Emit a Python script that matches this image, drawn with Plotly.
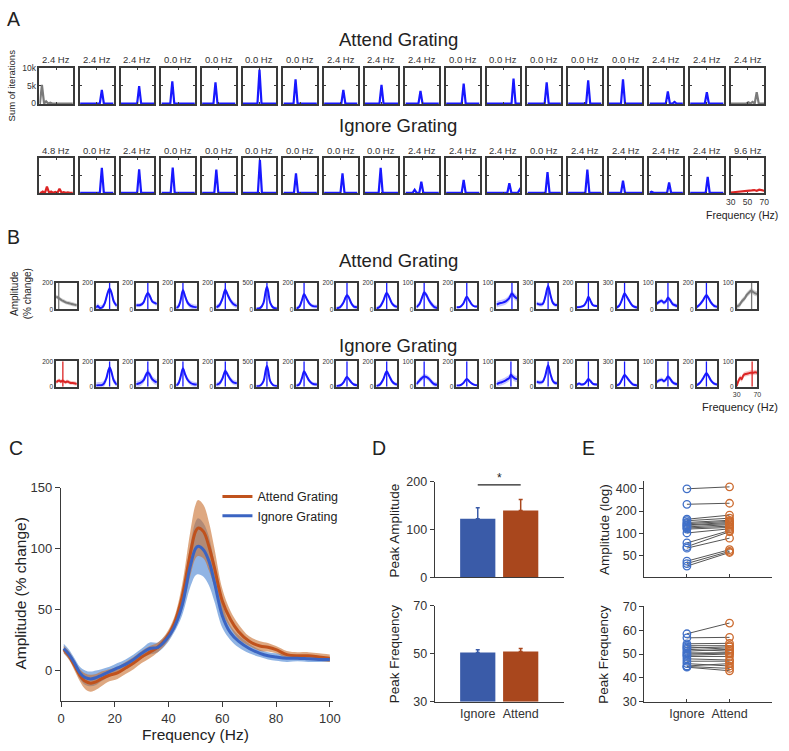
import plotly.graph_objects as go
import math

W, H = 789, 751
FONT = "Liberation Sans, Arial, Helvetica, sans-serif"
INK = "#222222"
AX = "#3a3a3a"

# ================= Panel A : histograms of peak frequency =================
A_ATT_TITLES = ["2.4 Hz", "2.4 Hz", "2.4 Hz", "0.0 Hz", "0.0 Hz", "0.0 Hz", "0.0 Hz", "2.4 Hz", "2.4 Hz",
                "2.4 Hz", "0.0 Hz", "0.0 Hz", "0.0 Hz", "0.0 Hz", "0.0 Hz", "2.4 Hz", "2.4 Hz", "2.4 Hz"]
A_IGN_TITLES = ["4.8 Hz", "0.0 Hz", "2.4 Hz", "0.0 Hz", "0.0 Hz", "0.0 Hz", "0.0 Hz", "0.0 Hz", "0.0 Hz",
                "2.4 Hz", "2.4 Hz", "2.4 Hz", "0.0 Hz", "2.4 Hz", "2.4 Hz", "2.4 Hz", "2.4 Hz", "9.6 Hz"]
A_BIN = 2.4
A_ATT_PEAK_F = [33, 56, 52, 43, 46, 50, 44.5, 53, 50, 48, 51, 62, 53, 54, 47, 52, 50, 61]
A_ATT_PEAK_N = [5200, 3800, 4900, 6200, 5900, 9500, 6800, 3800, 5200, 3500, 5600, 7000, 5900, 6500, 6800, 3400, 3200, 3200]
A_ATT_EXTRA = {0: [(38, 600), (43, 250)], 15: [(60, 450)], 17: [(51, 350), (56, 450)]}
A_IGN_PEAK_F = [39, 56, 52, 43.5, 47, 50.5, 45, 52, 49, 49, 51, 57, 54, 53, 47, 53.5, 51, 57]
A_IGN_PEAK_N = [1800, 7200, 6800, 7300, 6700, 9500, 5600, 5600, 7200, 3200, 3700, 2800, 6000, 6700, 3500, 3000, 4600, 800]
A_IGN_EXTRA = {0: [(34, 400), (44, 400), (49, 250), (54, 1200), (59, 200), (64, 150)],
               9: [(41, 900)], 11: [(69.5, 1000)], 15: [(32.5, 300)]}
A_IGN_OVERRIDE = {17: [(30, 100), (35, 200), (40, 250), (45, 300), (50, 400), (55, 700), (58, 800),
                       (61, 600), (64, 900), (67, 800), (70, 600)]}

ATT_COLORS = ["gray"] + ["blue"] * 16 + ["gray"]
IGN_COLORS = ["red"] + ["blue"] * 16 + ["red"]
LINE_C = {"blue": "#1818ff", "gray": "#7a7a7a", "red": "#dc2424"}
BAND_C = {"blue": "rgba(110,110,255,0.38)", "gray": "rgba(140,140,140,0.42)", "red": "rgba(230,110,110,0.40)"}

# ================= Panel B : amplitude spectra per subject =================
B_YMAX = [200, 200, 200, 200, 200, 500, 200, 200, 200, 100, 200, 100, 300, 200, 300, 100, 200, 100]
B_ATT_CURVES = [
    [(30, 95), (35, 85), (40, 70), (45, 60), (50, 50), (55, 45), (60, 40), (65, 35), (70, 30)],
    [(30, 10), (33, 25), (37, 10), (42, 15), (47, 50), (52, 120), (56, 155), (60, 120), (64, 60), (70, 25)],
    [(30, 30), (38, 32), (44, 50), (48, 90), (52.5, 123), (57, 95), (61, 60), (66, 48), (70, 40)],
    [(30, 10), (34, 20), (38, 60), (43, 143), (47, 100), (52, 50), (58, 25), (64, 18), (70, 15)],
    [(30, 15), (36, 30), (42, 80), (47.5, 148), (52, 110), (57, 70), (63, 40), (70, 25)],
    [(30, 10), (38, 25), (44, 120), (48, 330), (50.6, 420), (53, 340), (57, 120), (63, 30), (70, 15)],
    [(30, 5), (36, 20), (41, 70), (45, 114), (50, 80), (55, 45), (61, 25), (70, 20)],
    [(30, 5), (37, 15), (43, 45), (48, 90), (50.6, 106), (54, 90), (59, 45), (64, 20), (70, 15)],
    [(30, 5), (37, 20), (43, 60), (50, 123), (55, 90), (60, 45), (65, 25), (70, 18)],
    [(30, 8), (36, 20), (41, 45), (45, 63), (49, 55), (54, 35), (60, 18), (65, 8), (70, 5)],
    [(30, 15), (37, 18), (43, 40), (50, 94), (55, 65), (60, 35), (65, 22), (70, 20)],
    [(30, 18), (35, 22), (42, 25), (48, 30), (54, 40), (60, 59), (64, 50), (70, 40)],
    [(30, 67), (36, 55), (42, 60), (47, 140), (52.5, 264), (57, 160), (62, 70), (66, 50), (70, 48)],
    [(30, 15), (38, 18), (45, 30), (50, 65), (53, 94), (57, 65), (62, 30), (70, 25)],
    [(30, 20), (35, 40), (40, 100), (45.5, 178), (50, 140), (55, 90), (61, 40), (66, 25), (70, 20)],
    [(30, 20), (35, 28), (40, 32), (44, 25), (48, 30), (52, 43), (56, 35), (61, 20), (66, 15), (70, 12)],
    [(30, 15), (36, 35), (42, 65), (49, 106), (53, 85), (58, 50), (64, 25), (70, 18)],
    [(30, 10), (35, 15), (40, 30), (45, 40), (50, 55), (55, 65), (58, 70), (62, 65), (66, 60), (70, 58)],
]
B_ATT_ERR = [15, 20, 15, 20, 20, 30, 15, 15, 15, 10, 8, 12, 25, 10, 20, 8, 15, 10]
B_ATT_VLINE = [35, 56, 52.5, 43, 47.5, 50.6, 45, 50.6, 50, 45, 50, 60, 52.5, 53, 45.5, 52, 49, 59]
B_IGN_CURVES = [
    [(30, 35), (33, 45), (36, 50), (39, 40), (42, 48), (45, 42), (48, 35), (51, 42), (54, 38), (57, 32), (60, 30), (65, 28), (70, 22)],
    [(30, 10), (35, 12), (40, 12), (45, 25), (50, 70), (53, 120), (56, 152), (60, 110), (64, 50), (70, 15)],
    [(30, 20), (38, 30), (44, 50), (48, 85), (52.5, 114), (57, 90), (61, 60), (66, 42), (70, 35)],
    [(30, 10), (34, 25), (38, 70), (43, 144), (47, 100), (52, 55), (58, 30), (64, 20), (70, 18)],
    [(30, 15), (36, 25), (42, 65), (47.5, 124), (52, 95), (57, 60), (63, 35), (70, 28)],
    [(30, 10), (38, 25), (44, 110), (48, 310), (50.6, 405), (53, 320), (57, 110), (63, 30), (70, 15)],
    [(30, 8), (36, 20), (41, 70), (45, 119), (50, 85), (55, 48), (61, 25), (70, 18)],
    [(30, 5), (38, 12), (44, 35), (48, 65), (50.6, 76), (54, 62), (59, 35), (64, 18), (70, 12)],
    [(30, 5), (37, 18), (43, 55), (50, 119), (55, 85), (60, 45), (65, 25), (70, 18)],
    [(30, 10), (35, 22), (40, 33), (45, 40), (50, 38), (55, 30), (60, 18), (65, 10), (70, 8)],
    [(30, 10), (37, 12), (43, 28), (50, 61), (55, 42), (60, 25), (65, 15), (70, 12)],
    [(30, 10), (35, 15), (40, 18), (45, 22), (50, 28), (55, 35), (58, 47), (62, 38), (66, 32), (70, 30)],
    [(30, 60), (36, 50), (42, 60), (47, 130), (52.5, 254), (57, 150), (62, 65), (66, 45), (70, 42)],
    [(30, 15), (35, 25), (40, 18), (45, 22), (50, 45), (53, 61), (57, 45), (62, 22), (70, 18)],
    [(30, 15), (35, 30), (40, 80), (45.5, 140), (50, 110), (55, 70), (61, 30), (66, 20), (70, 15)],
    [(30, 18), (35, 25), (40, 28), (44, 22), (48, 28), (52, 40), (56, 32), (61, 18), (66, 12), (70, 10)],
    [(30, 12), (36, 30), (42, 62), (49, 106), (53, 85), (58, 48), (64, 25), (70, 18)],
    [(30, 2), (33, 20), (37, 35), (40, 30), (43, 45), (47, 50), (52, 52), (57, 55), (62, 55), (66, 57), (70, 55)],
]
B_IGN_ERR = [15, 25, 25, 20, 20, 30, 15, 12, 15, 10, 8, 12, 25, 12, 20, 8, 12, 10]
B_IGN_VLINE = [43, 56, 52.5, 43, 47.5, 50.6, 45, 50.6, 50, 45, 50, 58, 52.5, 53, 45.5, 52, 49, 60]

# ================= Panel C : grand average spectra =================
C_FREQ = [1, 3, 5, 7, 9, 11, 13, 15, 18, 21, 24, 27, 30, 33, 36, 39, 42, 45, 48, 50, 51, 53, 55, 57,
          60, 63, 66, 70, 74, 77, 80, 84, 88, 92, 96, 100]
C_ATT_MEAN = [17, 12, 4, -4, -9, -10.5, -9.5, -7, -4, -2, 2, 6, 11, 15, 19, 26, 38, 60, 95, 114, 117, 114, 102, 85,
              57, 42, 32, 24, 20, 19, 17, 13, 12, 12, 11, 10]
C_ATT_SEM = [3, 3.5, 4, 5, 6.5, 7, 6.5, 6, 5, 5, 5, 5, 5, 5, 4, 4, 5, 10, 18, 22, 23, 22, 20, 16,
             10, 7, 6, 4, 4, 3.5, 3, 3, 3, 3, 3, 3]
C_IGN_MEAN = [18, 13, 6, -2, -6, -7, -6, -4, -1, 2, 5, 9, 14, 18, 19, 25, 35, 53, 85, 100, 102, 99, 90, 73,
              45, 31, 24, 18, 14, 12, 11, 10, 10, 9.5, 9, 9]
C_IGN_SEM = [4, 4, 4, 5, 6, 6, 6, 5, 4, 4, 4, 4, 4, 5, 4, 4, 4, 8, 17, 22, 23, 22, 20, 16,
             10, 6, 5, 4, 3, 3, 3, 3, 2.5, 2.5, 2, 2]

# ================= Panel D : bar summaries =================
COND_LABELS = ["Ignore", "Attend"]
D_AMP_MEAN = [123, 140]
D_AMP_ERR = [23, 23]
D_FREQ_MEAN = [50.5, 50.9]
D_FREQ_ERR = [1.1, 1.3]
D_SIG_Y = 194

# ================= Panel E : individual subjects =================
E_AMP_IGN = [400, 247, 155, 148, 140, 135, 130, 128, 122, 118, 114, 101, 74, 66, 63, 42, 39, 36]
E_AMP_ATT = [425, 255, 176, 160, 150, 145, 140, 135, 131, 125, 120, 115, 109, 105, 86, 60, 57, 55]
E_FREQ_IGN = [58.5, 56.8, 54.3, 53.5, 53, 52.5, 52, 51.2, 50.5, 50, 49.5, 49, 48, 47, 46, 45, 44.8, 44.5]
E_FREQ_ATT = [63, 57, 54.5, 53.5, 52, 53, 51.2, 52, 50.5, 50.5, 50, 49, 47.5, 47, 45, 46, 44, 43]

C_ORANGE = "#c0521d"
C_BLUE = "#3b64c2"
BAR_BLUE = "#3a5ba8"
BAR_ORANGE = "#a9471d"
E_BLUE = "#4070c8"
E_ORANGE = "#cc6a2e"

# ---------------------------------------------------------------------------
fig = go.Figure()
layout = {}
annotations = []
counter = [0]


def xdom(l, w):
    return [l / W, (l + w) / W]


def ydom(top, bottom):
    return [1 - bottom / H, 1 - top / H]


def new_axes(xd, yd, xcfg, ycfg):
    counter[0] += 1
    n = counter[0]
    xs = "x" if n == 1 else f"x{n}"
    ys = "y" if n == 1 else f"y{n}"
    layout["xaxis" if n == 1 else f"xaxis{n}"] = dict(domain=xd, anchor=ys, showgrid=False, zeroline=False,
                                                      fixedrange=True, **xcfg)
    layout["yaxis" if n == 1 else f"yaxis{n}"] = dict(domain=yd, anchor=xs, showgrid=False, zeroline=False,
                                                      fixedrange=True, **ycfg)
    return xs, ys


def text(x, y, s, size, angle=0, xanchor="center", color=INK):
    annotations.append(dict(x=x / W, y=1 - y / H, xref="paper", yref="paper", text=s, showarrow=False,
                            font=dict(family=FONT, size=size, color=color), textangle=angle,
                            xanchor=xanchor, yanchor="middle"))


def box_axis(tickvals, rng, show, ticktext=None, size=8):
    d = dict(range=rng, showline=True, mirror="ticks", linecolor=AX, linewidth=1.5, ticks="inside",
             ticklen=2, tickwidth=1, tickcolor=AX, tickvals=tickvals, showticklabels=show,
             tickfont=dict(family=FONT, size=size, color="#333"))
    if ticktext is not None:
        d["ticktext"] = ticktext
    return d


def a_knots(f, n, extra):
    pk = sorted([(f, n)] + list(extra))
    xs, ys = [30], [0]
    for pf, pn in pk:
        xs += [pf - A_BIN, pf, pf + A_BIN]
        ys += [0, pn, 0]
    xs.append(70)
    ys.append(0)
    return xs, ys


# ---------------- Panel A ----------------
A_X0, A_STEP, A_W = 35, 41.35, 34
A_ROWS = [(62, 99, A_ATT_TITLES, A_ATT_PEAK_F, A_ATT_PEAK_N, A_ATT_EXTRA, {}, ATT_COLORS, 54),
          (154, 190, A_IGN_TITLES, A_IGN_PEAK_F, A_IGN_PEAK_N, A_IGN_EXTRA, A_IGN_OVERRIDE, IGN_COLORS, 146)]
for r, (top, bot, titles, pf, pn, extra, override, colors, ty) in enumerate(A_ROWS):
    for i in range(18):
        left = A_X0 + i * A_STEP
        first = (r == 0 and i == 0)
        last = (r == 1 and i == 17)
        xa = box_axis([30, 50, 70], [30, 70], last, ["30", "50", "70"], 8.5)
        ya = box_axis([0, 5000, 10000], [-180, 10000], first, ["0", "5k", "10k"], 8.5)
        xs, ys = new_axes(xdom(left, A_W), ydom(top, bot), xa, ya)
        if i in override:
            kx = [p[0] for p in override[i]]
            ky = [p[1] for p in override[i]]
        else:
            kx, ky = a_knots(pf[i], pn[i], extra.get(i, []))
        fig.add_trace(go.Scatter(x=kx, y=ky, mode="lines", xaxis=xs, yaxis=ys, showlegend=False,
                                 line=dict(color=LINE_C[colors[i]], width=2.2)))
        text(left + A_W / 2, ty, titles[i], 9.5, color="#333")

text(400, 33, "Attend Grating", 18.5)
text(400, 121, "Ignore Grating", 18.5)
text(7, 80, "Sum of iterations", 9.5, angle=-90)
text(788, 212, "Frequency (Hz)", 10.5, xanchor="right")

# ---------------- Panel B ----------------
B_X0, B_STEP, B_W = 52, 40.7, 21
B_ROWS = [(281, 308, B_ATT_CURVES, B_ATT_ERR, B_ATT_VLINE, ATT_COLORS),
          (361, 387, B_IGN_CURVES, B_IGN_ERR, B_IGN_VLINE, IGN_COLORS)]
for r, (top, bot, curves, errs, vls, colors) in enumerate(B_ROWS):
    for i in range(18):
        left = B_X0 + i * B_STEP
        last = (r == 1 and i == 17)
        ym = B_YMAX[i]
        xa = box_axis([30, 70], [30, 70], last, ["30", "70"], 7)
        ya = box_axis([0, ym], [0, ym], True, ["0", str(ym)], 6.5)
        xs, ys = new_axes(xdom(left, B_W), ydom(top, bot), xa, ya)
        c = colors[i]
        kx = [p[0] for p in curves[i]]
        ky = [p[1] for p in curves[i]]
        up = [v + errs[i] for v in ky]
        lo = [max(v - errs[i], 0) for v in ky]
        fig.add_trace(go.Scatter(x=kx, y=up, mode="lines", xaxis=xs, yaxis=ys, showlegend=False,
                                 line=dict(width=0, shape="spline", color=BAND_C[c])))
        fig.add_trace(go.Scatter(x=kx, y=lo, mode="lines", xaxis=xs, yaxis=ys, showlegend=False,
                                 fill="tonexty", fillcolor=BAND_C[c],
                                 line=dict(width=0, shape="spline", color=BAND_C[c])))
        fig.add_trace(go.Scatter(x=[vls[i], vls[i]], y=[0, ym], mode="lines", xaxis=xs, yaxis=ys,
                                 showlegend=False, line=dict(color=LINE_C[c], width=1.3)))
        fig.add_trace(go.Scatter(x=kx, y=ky, mode="lines", xaxis=xs, yaxis=ys, showlegend=False,
                                 line=dict(color=LINE_C[c], width=2, shape="spline")))

text(400, 258, "Attend Grating", 18.5)
text(400, 345, "Ignore Grating", 18.5)
text(16, 292, "Amplitude<br>(% change)", 10, angle=-90)
text(788, 408, "Frequency (Hz)", 11, xanchor="right")

# ---------------- Panel C ----------------
c_ax = dict(showline=True, linecolor=AX, linewidth=1.3, ticks="outside", ticklen=5, tickwidth=1.2,
            tickcolor=AX, tickfont=dict(family=FONT, size=13, color="#333"))
xs, ys = new_axes(xdom(57, 276), ydom(490, 707),
                  dict(range=[0, 101], tickvals=[0, 20, 40, 60, 80, 100], **c_ax),
                  dict(range=[-25, 150], tickvals=[0, 50, 100, 150], **c_ax))
for mean, sem, fillc in [(C_IGN_MEAN, C_IGN_SEM, "rgba(70,130,210,0.6)"),
                         (C_ATT_MEAN, C_ATT_SEM, "rgba(200,110,45,0.6)")]:
    fig.add_trace(go.Scatter(x=C_FREQ, y=[m + s for m, s in zip(mean, sem)], mode="lines", xaxis=xs, yaxis=ys,
                             showlegend=False, line=dict(width=0, shape="spline", color=fillc)))
    fig.add_trace(go.Scatter(x=C_FREQ, y=[m - s for m, s in zip(mean, sem)], mode="lines", xaxis=xs, yaxis=ys,
                             showlegend=False, fill="tonexty", fillcolor=fillc,
                             line=dict(width=0, shape="spline", color=fillc)))
fig.add_trace(go.Scatter(x=C_FREQ, y=C_ATT_MEAN, mode="lines", xaxis=xs, yaxis=ys, name="Attend Grating",
                         line=dict(color=C_ORANGE, width=3, shape="spline")))
fig.add_trace(go.Scatter(x=C_FREQ, y=C_IGN_MEAN, mode="lines", xaxis=xs, yaxis=ys, name="Ignore Grating",
                         line=dict(color=C_BLUE, width=3, shape="spline")))
text(16, 597, "Amplitude (% change)", 15.5, angle=-90)
text(194, 741, "Frequency (Hz)", 15.5)

# ---------------- Panel D ----------------
d_ax = dict(showline=True, linecolor=AX, linewidth=1.3, tickcolor=AX, tickwidth=1.2,
            tickfont=dict(family=FONT, size=12.5, color="#333"))
cond_x = [1, 2]
bar_cols = [BAR_BLUE, BAR_ORANGE]
for top, bot, rng, tv, means, errs, lab in [
        (484, 581, [0, 200], [0, 100, 200], D_AMP_MEAN, D_AMP_ERR, False),
        (610, 708, [30, 70], [30, 50, 70], D_FREQ_MEAN, D_FREQ_ERR, True)]:
    xs, ys = new_axes(xdom(437, 131), ydom(top, bot),
                      dict(range=[0, 3], tickvals=cond_x, ticktext=COND_LABELS, showticklabels=lab,
                           ticks="", **d_ax),
                      dict(range=rng, tickvals=tv, ticks="outside", ticklen=4, **d_ax))
    for k in range(2):
        fig.add_trace(go.Bar(x=[cond_x[k]], y=[means[k] - rng[0]], base=rng[0], xaxis=xs, yaxis=ys,
                             width=0.82, marker=dict(color=bar_cols[k], line=dict(width=0)),
                             showlegend=False,
                             error_y=dict(type="data", symmetric=False, array=[errs[k]], arrayminus=[0],
                                          color=bar_cols[k], thickness=1.5, width=2)))
    if not lab:
        fig.add_trace(go.Scatter(x=cond_x, y=[D_SIG_Y, D_SIG_Y], mode="lines", xaxis=xs, yaxis=ys,
                                 showlegend=False, line=dict(color="#222", width=1.3)))
        annotations.append(dict(x=1.5, y=D_SIG_Y, xref=xs, yref=ys, text="*", showarrow=False,
                                yanchor="bottom", yshift=-2, font=dict(family=FONT, size=12, color=INK)))
text(396, 533, "Peak Amplitude", 13.5, angle=-90)
text(396, 659, "Peak Frequency", 13.5, angle=-90)

# ---------------- Panel E ----------------
for top, bot, ycfg, ign, att, lab in [
        (483, 581, dict(type="log", range=[math.log10(25.5), math.log10(510)], tickvals=[50, 100, 200, 400]),
         E_AMP_IGN, E_AMP_ATT, False),
        (610.7, 708, dict(range=[30, 70], tickvals=[30, 40, 50, 60, 70]), E_FREQ_IGN, E_FREQ_ATT, True)]:
    xs, ys = new_axes(xdom(650, 130), ydom(top, bot),
                      dict(range=[0, 3], tickvals=cond_x, ticktext=COND_LABELS, showticklabels=lab,
                           ticks="inside", ticklen=3, **d_ax),
                      dict(ticks="outside", ticklen=4, **ycfg, **d_ax))
    lx, ly = [], []
    for a, b in zip(ign, att):
        lx += [cond_x[0], cond_x[1], None]
        ly += [a, b, None]
    fig.add_trace(go.Scatter(x=lx, y=ly, mode="lines", xaxis=xs, yaxis=ys, showlegend=False,
                             line=dict(color="#555555", width=1)))
    fig.add_trace(go.Scatter(x=[cond_x[0]] * len(ign), y=ign, mode="markers", xaxis=xs, yaxis=ys,
                             showlegend=False, cliponaxis=False,
                             marker=dict(symbol="circle-open", size=7.5, color=E_BLUE, line=dict(width=1.3))))
    fig.add_trace(go.Scatter(x=[cond_x[1]] * len(att), y=att, mode="markers", xaxis=xs, yaxis=ys,
                             showlegend=False, cliponaxis=False,
                             marker=dict(symbol="circle-open", size=7.5, color=E_ORANGE, line=dict(width=1.3))))
text(609, 532, "Amplitude (log)", 13.5, angle=-90)
text(609, 659, "Peak Frequency", 13.5, angle=-90)

# ---------------- panel letters ----------------
for letter, x, y in [("A", 9, 12), ("B", 9, 234), ("C", 11, 449), ("D", 380, 449), ("E", 593, 449)]:
    text(x, y, letter, 19.5)

fig.update_layout(
    width=W, height=H, autosize=False,
    margin=dict(l=0, r=0, t=0, b=0, pad=0),
    paper_bgcolor="white", plot_bgcolor="white",
    font=dict(family=FONT, color=INK),
    hovermode=False,
    showlegend=True,
    legend=dict(x=216 / W, y=1 - 484 / H, xanchor="left", yanchor="top", bgcolor="rgba(0,0,0,0)",
                font=dict(family=FONT, size=12.5, color=INK), itemwidth=30, tracegroupgap=0,
                traceorder="normal"),
    annotations=annotations,
    **layout,
)
fig.write_html("out.html", config={"displayModeBar": False},
               post_script="document.body.style.margin='0';document.body.style.padding='0';")
